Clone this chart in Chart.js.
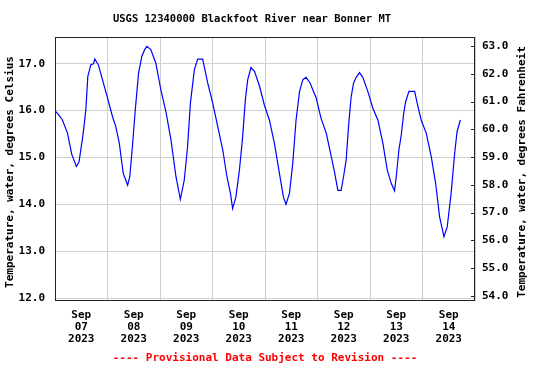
<!DOCTYPE html>
<html>
<head>
<meta charset="utf-8">
<script src="https://cdn.jsdelivr.net/npm/chart.js@4"></script>
<style>
  html, body { margin: 0; padding: 0; background: #fff; }
  #wrap { width: 550px; height: 367px; }
</style>
</head>
<body>
<div id="wrap"><canvas id="chart" width="550" height="367"></canvas></div>
<script>
// hours since Sep 07 00:00
const hours = [0, 1.5, 3.4, 5.7, 7.7, 9.8, 11, 12.9, 14.1, 15, 16.4, 17.6, 18.2, 19.8, 21.7,
  24, 26.3, 27.8, 29.4, 31.2, 33.2, 34.2, 35.5, 36.7, 38.2, 39.7, 41, 42, 43.8, 46.1,
  48.4, 50.7, 53, 55.3, 57.3, 59.1, 60.6, 61.9, 63.7, 65.2, 67.5, 69.8,
  72.1, 74.4, 76.7, 78.6, 80.2, 81.2, 82.7, 84.3, 85.8, 87, 88.1, 89.6, 91.2, 93.5, 95.7,
  98, 100.3, 102.6, 104.4, 105.6, 107.2, 108.7, 110.2, 111.8, 113.3, 114.8, 116.6, 119.4,
  121.6, 124, 126.3, 127.9, 129.3, 130.8, 131.9, 133.1, 134.3, 135.4, 136.5, 137.7, 139.2, 140.7, 143,
  145.3, 147.6, 149.9, 151.9, 153.7, 155.2, 156, 157.2, 158.3, 159.4, 160.3, 161.8, 164.4, 165.9, 167.4,
  169.7, 172, 174, 175.8, 177.8, 179.3, 181.1, 182.7, 183.8, 185.3]
const tempC = [16.0, 15.92, 15.8, 15.52, 15.06, 14.81, 14.91, 15.52, 16.02, 16.73, 16.98, 17.0, 17.1, 16.98, 16.66,
  16.27, 15.87, 15.66, 15.3, 14.66, 14.41, 14.59, 15.3, 16.02, 16.8, 17.16, 17.3, 17.37, 17.3, 17.01,
  16.44, 15.98, 15.38, 14.59, 14.11, 14.52, 15.23, 16.16, 16.87, 17.1, 17.1, 16.59,
  16.16, 15.66, 15.16, 14.59, 14.24, 13.91, 14.16, 14.73, 15.45, 16.23, 16.66, 16.92, 16.84, 16.52, 16.12,
  15.8, 15.3, 14.66, 14.16, 14.0, 14.24, 14.88, 15.8, 16.41, 16.66, 16.71, 16.59, 16.27,
  15.84, 15.52, 15.02, 14.66, 14.3, 14.3, 14.59, 14.95, 15.73, 16.3, 16.59, 16.71, 16.81, 16.71, 16.41,
  16.05, 15.8, 15.3, 14.73, 14.45, 14.29, 14.59, 15.16, 15.48, 15.94, 16.19, 16.41, 16.41, 16.09, 15.8,
  15.52, 15.02, 14.45, 13.74, 13.31, 13.52, 14.24, 15.09, 15.55, 15.8]

const month = "Sep"
const year = "2023"
const days = ["07", "08", "09", "10", "11", "12", "13", "14"]
const celsiusTicks = [12, 13, 14, 15, 16, 17]
const fahrenheitTicks = [54, 55, 56, 57, 58, 59, 60, 61, 62, 63]

const titleText = "USGS 12340000 Blackfoot River near Bonner MT"
const footerText = "---- Provisional Data Subject to Revision ----"
const leftTitle = "Temperature, water, degrees Celsius"
const rightTitle = "Temperature, water, degrees Fahrenheit"

const FONT = "'DejaVu Sans Mono', monospace"
Chart.defaults.font.family = FONT
Chart.defaults.font.size = 11
Chart.defaults.font.weight = "bold"
Chart.defaults.color = "#000"

// titles, footer, frame and inner right ticks
const decor = {
  id: "decor",
  afterDraw(chart) {
    const { ctx, chartArea: a } = chart
    ctx.save()
    ctx.strokeStyle = "#222"
    ctx.lineWidth = 1
    ctx.strokeRect(a.left + 0.5, a.top + 0.5, a.right - a.left - 1, a.bottom - a.top - 1)

    const yF = chart.scales.yF
    ctx.beginPath()
    fahrenheitTicks.forEach((v) => {
      const y = Math.round(yF.getPixelForValue(v)) + 0.5
      ctx.moveTo(a.right - 4, y)
      ctx.lineTo(a.right, y)
    })
    ctx.stroke()

    ctx.fillStyle = "#000"
    ctx.textAlign = "center"
    ctx.textBaseline = "middle"
    ctx.font = "bold 10.5px " + FONT
    ctx.fillText(titleText, 252, 19)

    ctx.font = "bold 11px " + FONT
    ctx.fillStyle = "#ff0000"
    ctx.fillText(footerText, (a.left + a.right) / 2, 358)

    ctx.fillStyle = "#000"
    ctx.save()
    ctx.translate(10, 172)
    ctx.rotate(-Math.PI / 2)
    ctx.fillText(leftTitle, 0, 0)
    ctx.restore()
    ctx.save()
    ctx.translate(522, 172)
    ctx.rotate(-Math.PI / 2)
    ctx.fillText(rightTitle, 0, 0)
    ctx.restore()
    ctx.restore()
  },
}

const points = hours.map((h, i) => ({ x: h, y: tempC[i] }))

new Chart(document.getElementById("chart"), {
  type: "line",
  data: {
    datasets: [
      {
        data: points,
        borderColor: "#0000ff",
        borderWidth: 1.2,
        pointRadius: 0,
        tension: 0,
        fill: false,
        yAxisID: "y",
      },
    ],
  },
  options: {
    responsive: false,
    animation: false,
    events: [],
    layout: { padding: { top: 37, left: 0, right: 0, bottom: 0 } },
    plugins: { legend: { display: false }, title: { display: false }, tooltip: { enabled: false } },
    scales: {
      x: {
        type: "linear",
        min: 0,
        max: 192,
        afterBuildTicks: (s) => {
          const t = []
          for (let v = 0; v <= 192; v += 12) t.push({ value: v })
          s.ticks = t
        },
        afterFit: (s) => { s.height = 66 },
        border: { display: false },
        grid: {
          drawTicks: false,
          color: (c) => (c.tick && c.tick.value % 24 === 0 ? "#cfcfcf" : "rgba(0,0,0,0)"),
        },
        ticks: {
          autoSkip: false,
          maxRotation: 0,
          padding: 8,
          font: { size: 11, lineHeight: 1.1 },
          callback: (v) => (v % 24 === 12 ? [month, days[(v - 12) / 24], year] : ""),
        },
      },
      y: {
        position: "left",
        min: 11.94,
        max: 17.57,
        afterBuildTicks: (s) => { s.ticks = celsiusTicks.map((v) => ({ value: v })) },
        afterFit: (s) => { s.width = 55 },
        border: { display: false },
        grid: { drawTicks: false, color: "#cfcfcf" },
        ticks: { padding: 10, callback: (v) => v.toFixed(1) },
      },
      yF: {
        position: "right",
        display: true,
        min: 53.81,
        max: 63.33,
        afterBuildTicks: (s) => { s.ticks = fahrenheitTicks.map((v) => ({ value: v })) },
        afterFit: (s) => { s.width = 75 },
        border: { display: false },
        grid: { drawOnChartArea: false, drawTicks: false },
        ticks: { padding: 7, callback: (v) => v.toFixed(1) },
      },
    },
  },
  plugins: [decor],
})
</script>
</body>
</html>
